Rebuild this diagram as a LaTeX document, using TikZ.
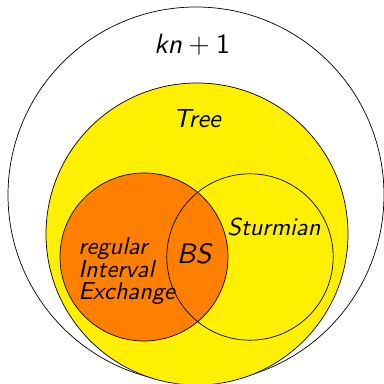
\documentclass[tikz,border=0pt]{standalone}
\usepackage{tikz}
\definecolor{AmarilloArbol}{RGB}{255,240,0}
\definecolor{NaranjaIET}{RGB}{255,128,0}
% sans 10pt design scaled up
\font\sfitGrande=cmssi10 at 19.8pt
\font\sfrmGrande=cmss10 at 19.8pt
\font\sfitArbol=cmssi10 at 18.6pt
\font\sfitBS=cmssi10 at 20pt
\font\sfitMedio=cmssi10 at 17.4pt
\newcommand{\interlineaIET}{\setlength{\baselineskip}{15.4pt}}

\begin{document}
\begin{tikzpicture}[
    conjunto/.style={draw=black,line width=0.5pt},
    etiqueta/.style={inner sep=0pt}
  ]
  \useasboundingbox (0,0) rectangle (9.6,9.6);
  \clip (0,0) rectangle (9.6,9.6);

  % Conjuntos
  \draw[conjunto,fill=white] (4.9,4.725) circle (4.7);
  \draw[conjunto,fill=AmarilloArbol] (4.925,3.75) circle (3.775);
  \fill[NaranjaIET] (3.6,3.175) circle (2.1);
  \draw[conjunto] (3.6,3.175) circle (2.1);
  \draw[conjunto] (6.25,3.175) circle (2.08);

  % Etiquetas
  \node[etiqueta,font=\fontsize{19.8}{22}\selectfont] (knmas) at (4.8,8.475)
    {{\sfitGrande kn}${}+{}${\sfrmGrande 1}};
  \node[etiqueta,font=\sfitArbol] (arbol) at (4.925,6.65) {Tree};
  \node[etiqueta,font=\sfitMedio] (sturm) at (6.85,3.925) {Sturmian};
  \node[etiqueta,font=\sfitBS] (bs) at (4.85,3.25) {BS};
  \node[etiqueta,font=\sfitMedio\interlineaIET,align=left,anchor=west]
    (iet) at (1.95,2.83) {regular\\Interval\\Exchange};
\end{tikzpicture}
\end{document}
